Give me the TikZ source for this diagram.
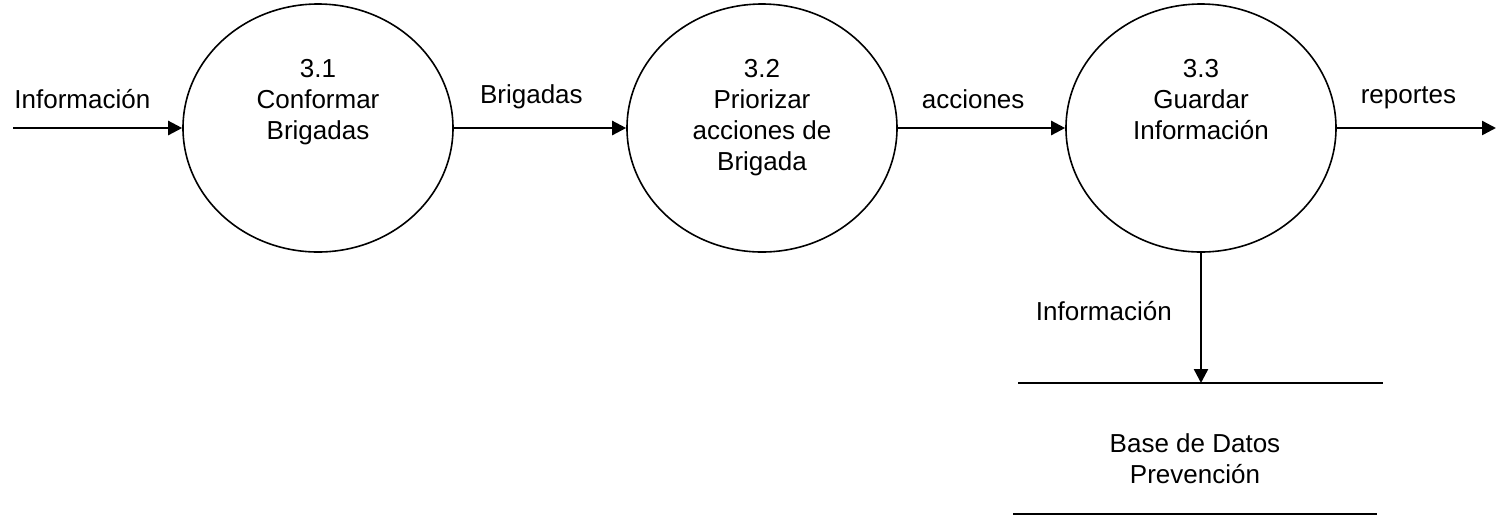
\documentclass[tikz,border=0pt]{standalone}
\usepackage{fontspec}
\setmainfont{Liberation Sans}
\usetikzlibrary{shapes.geometric,arrows.meta,positioning}

\begin{document}
\begin{tikzpicture}[x=0.5pt,y=-0.5pt,
    proc/.style={draw, ellipse, line width=0.8pt, inner sep=0pt, minimum width=135pt, minimum height=124pt},
    ptext/.style={align=center, inner sep=0pt, font=\fontsize{13}{15.5}\selectfont},
    flow/.style={line width=1.2pt, -{Triangle[length=7pt,width=7pt]}},
    flbl/.style={above=9pt, inner sep=0pt, font=\fontsize{13}{15.5}\selectfont}]
    \useasboundingbox (0,0) rectangle (1496,516);

    % procesos
    \node[proc] (p31) at (318,128) {};
    \node[proc] (p32) at (762,128) {};
    \node[proc] (p33) at (1201,128) {};
    \node[ptext, anchor=north] (t31) at ([yshift=-28pt]p31.north) {3.1\\Conformar\\Brigadas};
    \node[ptext, anchor=north] (t32) at ([yshift=-28pt]p32.north) {3.2\\Priorizar\\acciones de\\Brigada};
    \node[ptext, anchor=north] (t33) at ([yshift=-28pt]p33.north) {3.3\\Guardar\\Información};

    % almacen
    \coordinate (dbTL) at (1018,383);
    \coordinate (dbTR) at (1383,383);
    \coordinate (dbBL) at (1013,514);
    \coordinate (dbBR) at (1377,514);
    \draw[line width=0.6pt] (dbTL) -- (dbTR);
    \draw[line width=1pt] (dbBL) -- (dbBR);
    \node[ptext] (db) at (1195,459) {Base de Datos\\Prevención};

    % flujos
    \coordinate (src) at (13,128);
    \coordinate (sink) at (1496,128);
    \draw[flow] (src) -- (p31.west) node[flbl, pos=0.41] {Información};
    \draw[flow] (p31.east) -- (p32.west) node[flbl, pos=0.45] {Brigadas};
    \draw[flow] (p32.east) -- (p33.west) node[flbl, pos=0.45] {acciones};
    \draw[flow] (p33.east) -- (sink) node[flbl, pos=0.45] {reportes};
    \draw[flow] (p33.south) -- (p33.south |- dbTL) node[left=14pt, inner sep=0pt, pos=0.45, font=\fontsize{13}{15.5}\selectfont] {Información};
\end{tikzpicture}
\end{document}
